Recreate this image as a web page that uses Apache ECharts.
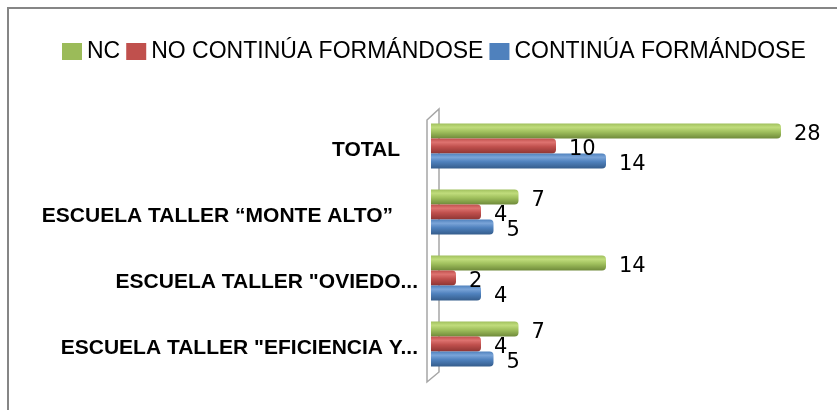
<!DOCTYPE html>
<html>
<head>
<meta charset="utf-8">
<script src="https://cdn.jsdelivr.net/npm/echarts@6/dist/echarts.min.js"></script>
<style>
  html, body { margin: 0; padding: 0; background: #ffffff; }
  #chart { width: 837px; height: 410px; }
</style>
</head>
<body>
<div id="chart"></div>
<script>
// Categories listed bottom to top, as the category axis stacks them
const categories = [
  'ESCUELA TALLER "EFICIENCIA Y...',
  'ESCUELA TALLER "OVIEDO...',
  'ESCUELA TALLER \u201CMONTE ALTO\u201D',
  'TOTAL'
];
const seriesNames = ['NC', 'NO CONTINÚA FORMÁNDOSE', 'CONTINÚA FORMÁNDOSE'];
const ncValues = [7, 14, 7, 28];
const noContinuaValues = [4, 2, 4, 10];
const continuaValues = [5, 4, 5, 14];

// Layout constants
const GRID = { left: 431, right: 31, top: 113, bottom: 33 };
const W = 837, H = 410;

function cylinder(light, mid, dark) {
  return new echarts.graphic.LinearGradient(0, 0, 0, 1, [
    { offset: 0, color: mid },
    { offset: 0.25, color: light },
    { offset: 0.55, color: mid },
    { offset: 1, color: dark }
  ]);
}

const barColors = {
  green: cylinder('#c0dc7c', '#a0c05d', '#6f8a3a'),
  red: cylinder('#de7370', '#c0504d', '#8e3533'),
  blue: cylinder('#7aa4d8', '#4f81bd', '#355d8c')
};
const legendColors = { green: '#9bbb59', red: '#c0504d', blue: '#4f81bd' };

function barSeries(name, data, key) {
  return {
    name: name,
    type: 'bar',
    data: data,
    barWidth: 15,
    barGap: '0%',
    z: 3,
    itemStyle: {
      color: barColors[key],
      borderRadius: [0, 4, 4, 0]
    },
    label: {
      show: true,
      position: 'right',
      distance: 13,
      offset: [0, 4],
      fontFamily: 'DejaVu Sans',
      fontSize: 21,
      color: '#000000'
    }
  };
}

const chart = echarts.init(document.getElementById('chart'), null, { renderer: 'canvas' });

const plotTop = GRID.top, plotBottom = H - GRID.bottom;
const labelStyle = { fontFamily: 'Liberation Sans', fontWeight: 'bold', fontSize: 21, color: '#000' };

chart.setOption({
  animation: false,
  backgroundColor: '#ffffff',
  legend: {
    data: [
      { name: seriesNames[0], itemStyle: { color: legendColors.green } },
      { name: seriesNames[1], itemStyle: { color: legendColors.red } },
      { name: seriesNames[2], itemStyle: { color: legendColors.blue } }
    ],
    top: 35,
    left: 57,
    icon: 'rect',
    itemWidth: 20,
    itemHeight: 17,
    itemGap: 6,
    textStyle: {
      fontFamily: 'Liberation Sans',
      fontSize: 23,
      color: '#000000'
    }
  },
  grid: {
    left: GRID.left,
    right: GRID.right,
    top: GRID.top,
    bottom: GRID.bottom,
    containLabel: false
  },
  xAxis: {
    type: 'value',
    min: 0,
    max: 30,
    show: false
  },
  yAxis: {
    type: 'category',
    data: categories,
    axisLine: { show: false },
    axisTick: { show: false },
    splitLine: { show: false },
    axisLabel: {
      margin: 13,
      formatter: function (value) {
        if (value === 'TOTAL') return '{far|' + value + '}';
        if (value.indexOf('MONTE ALTO') >= 0) return '{farther|' + value + '}';
        return '{base|' + value + '}';
      },
      rich: {
        base: Object.assign({ padding: [8, 0, 0, 0] }, labelStyle),
        far: Object.assign({ padding: [8, 18, 0, 0] }, labelStyle),
        farther: Object.assign({ padding: [8, 25, 0, 0] }, labelStyle)
      }
    }
  },
  graphic: [
    {
      // chart area frame
      type: 'polyline',
      z: 0,
      silent: true,
      shape: { points: [[8, H], [8, 8], [W, 8]] },
      style: { stroke: '#868686', lineWidth: 2, fill: null }
    },
    {
      // thin 3D wall behind the bars
      type: 'polygon',
      z: 0,
      silent: true,
      shape: {
        points: [
          [GRID.left - 4, plotTop + 7],
          [GRID.left + 8, plotTop - 4],
          [GRID.left + 8, plotBottom - 5],
          [GRID.left - 4, plotBottom + 5]
        ]
      },
      style: { stroke: '#a6a6a6', lineWidth: 1.5, fill: '#ffffff' }
    }
  ],
  // first series sits on top within each category group
  series: [
    barSeries(seriesNames[0], ncValues, 'green'),
    barSeries(seriesNames[1], noContinuaValues, 'red'),
    barSeries(seriesNames[2], continuaValues, 'blue')
  ]
});
</script>
</body>
</html>
